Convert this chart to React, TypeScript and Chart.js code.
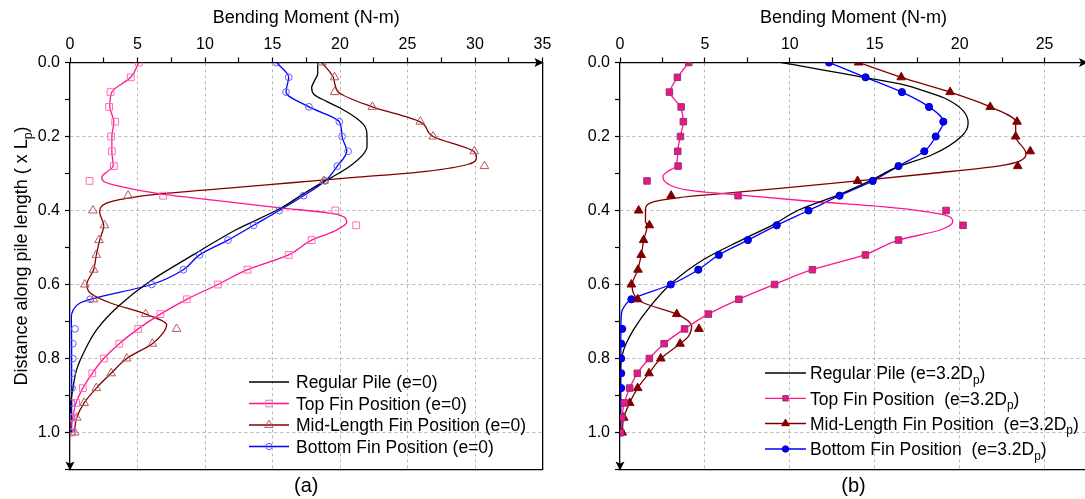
import React, { useEffect, useRef } from 'react';
import { Chart, registerables } from 'chart.js';

Chart.register(...registerables);

const FONT = "Arial, 'Liberation Sans', Helvetica, sans-serif";
Chart.defaults.font.family = FONT;
Chart.defaults.color = '#000';

// ---------- shared ----------
const markerDepths = [0, 0.04, 0.08, 0.12, 0.16, 0.2, 0.24, 0.28, 0.32, 0.36, 0.4, 0.44, 0.48, 0.52, 0.56, 0.6, 0.64, 0.68, 0.72, 0.76, 0.8, 0.84, 0.88, 0.92, 0.96, 1.0];

// ---------- panel (a) e = 0 ----------
const aTopMarkers = [5.1, 4.5, 3.0, 2.9, 3.35, 3.05, 3.1, 3.25, 1.45, 6.9, 19.65, 21.2, 17.9, 16.2, 13.15, 10.95, 8.65, 6.7, 5.05, 3.65, 2.5, 1.65, 0.95, 0.45, 0.25, 0.15];
const aMidMarkers = [18.65, 19.6, 19.6, 22.4, 25.95, 26.9, 29.95, 30.7, 18.8, 4.3, 1.7, 2.55, 2.15, 1.95, 1.75, 1.1, 1.75, 5.6, 7.9, 6.1, 4.2, 3.05, 1.95, 1.05, 0.5, 0.35];
const aBottomMarkers = [15.3, 16.2, 16.0, 17.7, 19.95, 20.15, 20.6, 19.8, 18.9, 17.3, 15.5, 13.6, 11.7, 9.6, 8.4, 6.05, 1.5, null, 0.37, 0.2, 0.2, 0.15, 0.15, 0.12, 0.12, 0.12];

const aRegularDepths = [0, 0.03, 0.05, 0.068, 0.087, 0.105, 0.123, 0.15, 0.173, 0.2, 0.228, 0.249, 0.281, 0.308, 0.322, 0.357, 0.394, 0.452, 0.514, 0.592, 0.659, 0.722, 0.777, 0.83, 0.885, 0.92, 1.0];
const aRegularValues = [18.35, 18.35, 18.1, 17.9, 18.1, 19.0, 20.0, 21.2, 21.85, 22.0, 22.0, 21.7, 20.7, 19.5, 18.8, 17.2, 15.6, 12.3, 9.4, 5.9, 3.58, 1.98, 1.11, 0.49, 0.2, 0.05, 0];

const aTopDepths = [0, 0.04, 0.08, 0.12, 0.16, 0.2, 0.24, 0.28, 0.295, 0.31, 0.321, 0.335, 0.355, 0.372, 0.392, 0.41, 0.432, 0.457, 0.48, 0.52, 0.56, 0.6, 0.64, 0.68, 0.72, 0.76, 0.8, 0.84, 0.88, 0.92, 0.96, 1.0];
const aTopValues = [5.1, 4.5, 3.1, 2.95, 3.25, 3.1, 3.1, 3.2, 2.75, 2.35, 2.47, 3.7, 6.7, 10.6, 15.4, 19.7, 20.5, 19.5, 17.9, 16.2, 13.15, 10.95, 8.65, 6.7, 5.05, 3.65, 2.5, 1.65, 0.95, 0.45, 0.2, 0.0];

const aMidDepths = [0, 0.04, 0.08, 0.12, 0.16, 0.2, 0.24, 0.256, 0.275, 0.294, 0.31, 0.325, 0.34, 0.355, 0.367, 0.38, 0.405, 0.44, 0.48, 0.52, 0.56, 0.6, 0.623, 0.65, 0.68, 0.709, 0.731, 0.76, 0.8, 0.84, 0.88, 0.92, 0.96, 1.0];
const aMidValues = [18.65, 19.5, 19.9, 22.4, 25.9, 26.9, 29.9, 30.1, 29.5, 26.4, 21.3, 16.4, 11.5, 6.7, 4.2, 2.7, 2.2, 2.5, 2.2, 1.95, 1.75, 1.25, 1.5, 3.0, 5.6, 7.16, 6.9, 6.1, 4.2, 3.05, 1.95, 1.05, 0.5, 0.3];

const aBottomDepths = [0, 0.04, 0.08, 0.12, 0.16, 0.2, 0.24, 0.28, 0.32, 0.36, 0.4, 0.44, 0.48, 0.52, 0.56, 0.6, 0.64, 0.65, 0.668, 0.69, 0.75, 0.85, 1.0];
const aBottomValues = [15.3, 16.2, 16.0, 17.7, 19.95, 20.15, 20.5, 19.8, 18.9, 17.3, 15.5, 13.6, 11.7, 9.6, 8.4, 6.05, 1.5, 0.74, 0.25, 0.1, 0.12, 0.12, 0.12];

// ---------- panel (b) e = 3.2Dp ----------
const bTopMarkers = [4.05, 3.38, 2.91, 3.6, 3.73, 3.56, 3.4, 3.42, 1.59, 6.95, 19.2, 20.2, 16.4, 14.45, 11.33, 9.1, 7.0, 5.2, 3.8, 2.6, 1.73, 1.02, 0.57, 0.26, 0.1, 0.03];
const bMidMarkers = [14.05, 16.56, 19.44, 21.8, 23.38, 23.3, 24.16, 23.42, 13.99, 3.01, 1.1, 1.73, 1.39, 1.25, 1.06, 0.67, 1.04, 3.34, 4.65, 3.54, 2.4, 1.71, 1.04, 0.57, 0.22, 0.13];
const bBottomMarkers = [12.31, 14.46, 16.6, 18.2, 19.04, 18.59, 17.92, 16.4, 14.88, 12.93, 11.1, 9.23, 7.53, 5.82, 4.61, 2.99, 0.67, null, 0.13, 0.07, 0.07, 0.07, 0.07, 0.07, 0.07, 0.07];

const bRegularDepths = [0, 0.02, 0.04, 0.058, 0.078, 0.096, 0.13, 0.164, 0.2, 0.25, 0.281, 0.317, 0.36, 0.398, 0.439, 0.48, 0.533, 0.596, 0.659, 0.722, 0.776, 0.82, 0.9, 1.0];
const bRegularValues = [9.5, 11.9, 14.35, 16.5, 18.0, 19.1, 20.2, 20.5, 20.1, 18.35, 16.4, 14.84, 12.75, 10.55, 9.0, 7.15, 4.9, 3.05, 1.78, 0.8, 0.22, 0.03, 0, 0];

const bTopDepths = [0, 0.04, 0.08, 0.12, 0.16, 0.2, 0.24, 0.28, 0.295, 0.308, 0.326, 0.344, 0.358, 0.375, 0.39, 0.41, 0.43, 0.452, 0.48, 0.52, 0.56, 0.6, 0.64, 0.68, 0.72, 0.76, 0.8, 0.84, 0.88, 0.92, 0.96, 1.0];
const bTopValues = [4.05, 3.4, 2.95, 3.55, 3.72, 3.55, 3.4, 3.3, 2.8, 2.53, 2.76, 3.9, 6.95, 11.2, 15.6, 18.9, 19.6, 18.9, 16.4, 14.4, 11.3, 9.1, 7.0, 5.2, 3.8, 2.6, 1.72, 1.02, 0.57, 0.26, 0.1, 0.02];

const bMidDepths = [0, 0.04, 0.08, 0.12, 0.16, 0.2, 0.245, 0.265, 0.28, 0.3, 0.32, 0.34, 0.355, 0.365, 0.376, 0.398, 0.43, 0.44, 0.48, 0.52, 0.56, 0.602, 0.632, 0.65, 0.68, 0.713, 0.74, 0.76, 0.8, 0.84, 0.88, 0.92, 0.96, 1.0];
const bMidValues = [14.05, 16.56, 19.44, 21.8, 23.3, 23.3, 23.9, 23.6, 22.25, 18.3, 14.0, 9.4, 5.8, 3.5, 2.0, 1.5, 1.5, 1.6, 1.4, 1.25, 1.05, 0.71, 0.9, 1.4, 3.34, 4.22, 4.03, 3.54, 2.4, 1.71, 1.04, 0.57, 0.22, 0.13];

const bBottomDepths = [0, 0.04, 0.08, 0.12, 0.16, 0.2, 0.24, 0.28, 0.32, 0.36, 0.4, 0.44, 0.48, 0.52, 0.56, 0.6, 0.64, 0.655, 0.68, 0.75, 1.0];
const bBottomValues = [12.3, 14.46, 16.6, 18.2, 19.04, 18.59, 17.92, 16.4, 14.88, 12.93, 11.1, 9.23, 7.53, 5.82, 4.61, 2.99, 0.67, 0.32, 0.08, 0.05, 0.05];

// ---------- text ----------
type Part = { t: string; sub?: boolean };
const xTitle = 'Bending Moment (N-m)';
const yTitleParts: Part[] = [{ t: 'Distance along pile length ( x L' }, { t: 'p', sub: true }, { t: ')' }];
const legendA: Part[][] = [
  [{ t: 'Regular Pile (e=0)' }],
  [{ t: 'Top Fin Position (e=0)' }],
  [{ t: 'Mid-Length Fin Position (e=0)' }],
  [{ t: 'Bottom Fin Position (e=0)' }],
];
const legendB: Part[][] = [
  [{ t: 'Regular Pile (e=3.2D' }, { t: 'p', sub: true }, { t: ')' }],
  [{ t: 'Top Fin Position  (e=3.2D' }, { t: 'p', sub: true }, { t: ')' }],
  [{ t: 'Mid-Length Fin Position  (e=3.2D' }, { t: 'p', sub: true }, { t: ')' }],
  [{ t: 'Bottom Fin Position  (e=3.2D' }, { t: 'p', sub: true }, { t: ')' }],
];

const BLACK = '#000000';
const PINK = '#FF1493';
const DRED = '#800000';
const BLUE = '#0000FF';

type Series = {
  d: number[];
  v: number[];
  color: string;
  markers?: (number | null)[];
  style?: 'rect' | 'triangle' | 'circle';
  r?: number;
  fill?: string;
  stroke?: string;
  legendR?: number;
};

type PanelSpec = {
  xMax: number;
  yWidth: number;
  padRight: number;
  label: string;
  yTitle: boolean;
  series: Series[];
  legend: Part[][];
  legendX1: number;
  legendX2: number;
  legendTX: number;
  legendY: number[];
  canvasWidth: number;
  left: number;
  rightBorder: boolean;
};

const panelA: PanelSpec = {
  xMax: 35, yWidth: 70, padRight: 17.5, label: '(a)', yTitle: true,
  series: [
    { d: aRegularDepths, v: aRegularValues, color: BLACK },
    { d: aTopDepths, v: aTopValues, color: PINK, markers: aTopMarkers, style: 'rect', r: 4.8, fill: 'rgba(255,255,255,0)', stroke: '#FF6EB4', legendR: 4.6 },
    { d: aMidDepths, v: aMidValues, color: DRED, markers: aMidMarkers, style: 'triangle', r: 5, fill: 'rgba(255,255,255,0)', stroke: '#B05A5A', legendR: 4.8 },
    { d: aBottomDepths, v: aBottomValues, color: BLUE, markers: aBottomMarkers, style: 'circle', r: 3.4, fill: 'rgba(255,255,255,0)', stroke: '#5E5EFF', legendR: 3.2 },
  ],
  legend: legendA, legendX1: 249, legendX2: 289, legendTX: 296, legendY: [382, 403.5, 425, 446.5],
  canvasWidth: 560, left: 0, rightBorder: true,
};

const panelB: PanelSpec = {
  xMax: 27.5, yWidth: 72, padRight: 3.2, label: '(b)', yTitle: false,
  series: [
    { d: bRegularDepths, v: bRegularValues, color: BLACK },
    { d: bTopDepths, v: bTopValues, color: PINK, markers: bTopMarkers, style: 'rect', r: 4.6, fill: '#F0148C', stroke: '#8A3A64', legendR: 3.8 },
    { d: bMidDepths, v: bMidValues, color: DRED, markers: bMidMarkers, style: 'triangle', r: 5, fill: DRED, stroke: DRED, legendR: 4.4 },
    { d: bBottomDepths, v: bBottomValues, color: BLUE, markers: bBottomMarkers, style: 'circle', r: 3.6, fill: BLUE, stroke: '#0000B0', legendR: 3.2 },
  ],
  legend: legendB, legendX1: 217, legendX2: 258, legendTX: 262, legendY: [373, 398.3, 423.5, 449],
  canvasWidth: 545, left: 548, rightBorder: true,
};

// ---------- helpers ----------
function toPts(ds: number[], vs: (number | null)[]) {
  const out: { x: number; y: number }[] = [];
  ds.forEach((d, i) => {
    const v = vs[i];
    if (v !== null && v !== undefined) out.push({ x: v, y: d });
  });
  return out;
}

function partsWidth(ctx: CanvasRenderingContext2D, parts: Part[], size: number) {
  let w = 0;
  for (const p of parts) {
    ctx.font = `${p.sub ? size * 0.68 : size}px ${FONT}`;
    w += ctx.measureText(p.t).width;
  }
  return w;
}

function drawParts(ctx: CanvasRenderingContext2D, parts: Part[], x: number, baseline: number, size: number) {
  let cx = x;
  ctx.textAlign = 'left';
  ctx.textBaseline = 'alphabetic';
  for (const p of parts) {
    if (p.sub) {
      ctx.font = `${size * 0.68}px ${FONT}`;
      ctx.fillText(p.t, cx, baseline + size * 0.24);
    } else {
      ctx.font = `${size}px ${FONT}`;
      ctx.fillText(p.t, cx, baseline);
    }
    cx += ctx.measureText(p.t).width;
  }
}

function drawMarker(ctx: CanvasRenderingContext2D, style: string, x: number, y: number, r: number, fill: string, stroke: string) {
  ctx.beginPath();
  if (style === 'rect') {
    const s = r * Math.SQRT1_2;
    ctx.rect(x - s, y - s, 2 * s, 2 * s);
  } else if (style === 'triangle') {
    const a = (2 * Math.PI) / 3;
    ctx.moveTo(x, y - r);
    ctx.lineTo(x + r * Math.sin(a), y - r * Math.cos(a));
    ctx.lineTo(x + r * Math.sin(2 * a), y - r * Math.cos(2 * a));
    ctx.closePath();
  } else {
    ctx.arc(x, y, r, 0, Math.PI * 2);
  }
  ctx.fillStyle = fill;
  ctx.fill();
  ctx.strokeStyle = stroke;
  ctx.lineWidth = 1;
  ctx.stroke();
}

function makeDecor(p: PanelSpec) {
  return {
    id: 'decor',
    afterDraw(chart: any) {
      const ctx: CanvasRenderingContext2D = chart.ctx;
      const a = chart.chartArea;
      ctx.save();
      // arrow heads
      ctx.fillStyle = '#000';
      ctx.beginPath();
      ctx.moveTo(a.right + 1, a.top);
      ctx.lineTo(a.right - 8, a.top - 4.5);
      ctx.lineTo(a.right - 6, a.top);
      ctx.lineTo(a.right - 8, a.top + 4.5);
      ctx.closePath();
      ctx.fill();
      ctx.beginPath();
      ctx.moveTo(a.left, a.bottom + 1);
      ctx.lineTo(a.left - 4.5, a.bottom - 8);
      ctx.lineTo(a.left, a.bottom - 6);
      ctx.lineTo(a.left + 4.5, a.bottom - 8);
      ctx.closePath();
      ctx.fill();

      // y title
      if (p.yTitle) {
        const size = 18;
        ctx.save();
        ctx.translate(21, 256);
        ctx.rotate(-Math.PI / 2);
        ctx.fillStyle = '#000';
        const w = partsWidth(ctx, yTitleParts, size);
        drawParts(ctx, yTitleParts, -w / 2, 6.3, size);
        ctx.restore();
      }

      // legend
      const size = 17.5;
      p.series.forEach((s, i) => {
        const y = p.legendY[i];
        ctx.beginPath();
        ctx.strokeStyle = s.color;
        ctx.lineWidth = 1.3;
        ctx.moveTo(p.legendX1, y);
        ctx.lineTo(p.legendX2, y);
        ctx.stroke();
        if (s.style) {
          drawMarker(ctx, s.style, (p.legendX1 + p.legendX2) / 2, y, s.legendR || 3, s.fill || 'transparent', s.stroke || s.color);
        }
        ctx.fillStyle = '#000';
        drawParts(ctx, p.legend[i], p.legendTX, y + 6.3, size);
      });
      ctx.restore();
    },
  };
}

function isMultiple(v: number, step: number) {
  const q = v / step;
  return Math.abs(q - Math.round(q)) < 1e-6;
}

function buildConfig(p: PanelSpec): any {
  const datasets: any[] = [];
  p.series.forEach((s) => {
    if (s.markers) {
      datasets.push({
        data: toPts(markerDepths, s.markers),
        showLine: false,
        pointStyle: s.style,
        pointRadius: s.r,
        pointHoverRadius: s.r,
        pointBackgroundColor: s.fill,
        pointBorderColor: s.stroke,
        pointBorderWidth: 1,
        borderColor: s.color,
        backgroundColor: s.fill,
      });
    }
  });
  p.series.forEach((s) => {
    datasets.push({
      data: toPts(s.d, s.v),
      borderColor: s.color,
      borderWidth: 1.3,
      pointRadius: 0,
      pointHoverRadius: 0,
      fill: false,
      cubicInterpolationMode: 'monotone',
    });
  });

  const gridDash = [3, 3];
  const GRID = '#b8b8b8';
  const NONE = 'rgba(0,0,0,0)';
  const tickFont = { family: FONT, size: 16 };

  const scales: any = {
    x: {
      type: 'linear',
      position: 'top',
      min: 0,
      max: p.xMax,
      ticks: {
        stepSize: 2.5,
        autoSkip: false,
        maxRotation: 0,
        includeBounds: false,
        padding: 3,
        font: tickFont,
        color: '#000',
        callback: (v: number) => (isMultiple(v, 5) ? String(Math.round(v)) : ''),
      },
      grid: {
        color: (c: any) => {
          const v = c.tick ? c.tick.value : 0;
          return isMultiple(v, 5) && v > 0.01 && v < p.xMax - 0.01 ? GRID : NONE;
        },
        tickColor: '#000',
        tickLength: 5,
        lineWidth: 1,
        tickWidth: 1.2,
      },
      border: { display: true, color: '#000', width: 1.3, dash: gridDash },
      title: { display: true, text: xTitle, font: { family: FONT, size: 18 }, color: '#000', padding: { top: 7, bottom: 0 } },
      afterFit: (s: any) => { s.height = 62.5; s.paddingLeft = 0; s.paddingRight = 0; },
    },
    y: {
      type: 'linear',
      position: 'left',
      reverse: true,
      min: 0,
      max: 1.1,
      ticks: {
        stepSize: 0.1,
        autoSkip: false,
        padding: 5,
        font: tickFont,
        color: '#000',
        callback: (v: number) => {
          const k = Math.round(v * 10);
          return k % 2 === 0 && k <= 10 ? (k / 10).toFixed(1) : '';
        },
      },
      grid: {
        color: (c: any) => {
          const v = c.tick ? c.tick.value : 0;
          const k = Math.round(v * 10);
          return k % 2 === 0 && k > 0 && k <= 10 ? GRID : NONE;
        },
        tickColor: '#000',
        tickLength: 5,
        lineWidth: 1,
        tickWidth: 1.2,
      },
      border: { display: true, color: '#000', width: 1.3, dash: gridDash },
      afterFit: (s: any) => { s.width = p.yWidth; s.paddingTop = 0; s.paddingBottom = 0; },
    },
    x2: {
      type: 'linear',
      axis: 'x',
      position: 'bottom',
      min: 0,
      max: p.xMax,
      ticks: { display: false },
      grid: { drawOnChartArea: false, drawTicks: false },
      border: { display: true, color: '#000', width: 1.3 },
      title: { display: true, text: p.label, font: { family: FONT, size: 20 }, color: '#000', padding: { top: 0, bottom: 1 } },
      afterFit: (s: any) => { s.height = 29.5; s.paddingLeft = 0; s.paddingRight = 0; },
    },
  };
  if (p.rightBorder) {
    scales.y2 = {
      type: 'linear',
      axis: 'y',
      position: 'right',
      min: 0,
      max: 1.1,
      ticks: { display: false },
      grid: { drawOnChartArea: false, drawTicks: false },
      border: { display: true, color: '#000', width: 1.3 },
      afterFit: (s: any) => { s.width = 0; s.paddingTop = 0; s.paddingBottom = 0; },
    };
  }

  return {
    type: 'line',
    data: { datasets },
    options: {
      indexAxis: 'y',
      animation: false,
      responsive: false,
      maintainAspectRatio: false,
      devicePixelRatio: 1,
      layout: { padding: { left: 0, top: 0, right: p.padRight, bottom: 0 } },
      plugins: { legend: { display: false }, tooltip: { enabled: false } },
      events: [],
      scales,
    },
    plugins: [makeDecor(p)],
  };
}

function Panel({ spec }: { spec: PanelSpec }) {
  const ref = useRef<HTMLCanvasElement>(null);
  useEffect(() => {
    if (!ref.current) return;
    const chart = new Chart(ref.current, buildConfig(spec));
    return () => chart.destroy();
  }, [spec]);
  return (
    <canvas
      ref={ref}
      width={spec.canvasWidth}
      height={499}
      style={{ position: 'absolute', left: spec.left, top: 0, width: spec.canvasWidth, height: 499 }}
    />
  );
}

export default function App() {
  return (
    <div style={{ position: 'fixed', left: 0, top: 0, width: 1085, height: 499, overflow: 'hidden', background: '#fff' }}>
      <Panel spec={panelA} />
      <Panel spec={panelB} />
    </div>
  );
}
